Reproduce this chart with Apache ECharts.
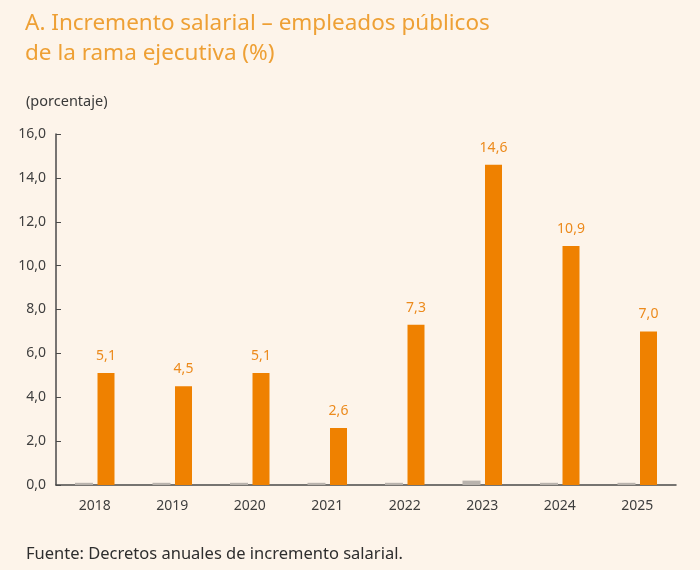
<!DOCTYPE html>
<html>
<head>
<meta charset="utf-8">
<script src="https://cdn.jsdelivr.net/npm/echarts@6/dist/echarts.min.js"></script>
<style>
  html, body { margin: 0; padding: 0; background: #fdf4ea; }
  #chart { width: 700px; height: 570px; }
</style>
</head>
<body>
<div id="chart"></div>
<script>
const years = ['2018', '2019', '2020', '2021', '2022', '2023', '2024', '2025'];
const increment = [5.1, 4.5, 5.1, 2.6, 7.3, 14.6, 10.9, 7.0];
const greyValues = [0.1, 0.1, 0.1, 0.1, 0.1, 0.2, 0.1, 0.1];

const comma = (v) => v.toFixed(1).replace('.', ',');
const font = 'Noto Sans';

const chart = echarts.init(document.getElementById('chart'), null, { width: 700, height: 570 });
chart.setOption({
  backgroundColor: '#fdf4ea',
  textStyle: { fontFamily: font },
  title: [
    {
      text: 'A. Incremento salarial – empleados públicos\nde la rama ejecutiva (%)',
      left: 20,
      top: 4,
      textStyle: {
        fontFamily: font,
        fontSize: 22.5,
        fontWeight: 'normal',
        color: '#eea035',
        lineHeight: 30,
      },
    },
    {
      text: '(porcentaje)',
      left: 21,
      top: 89,
      textStyle: { fontFamily: font, fontSize: 14.5, fontWeight: 'normal', color: '#3a3a3a' },
    },
    {
      text: 'Fuente: Decretos anuales de incremento salarial.',
      left: 21,
      top: 541,
      textStyle: { fontFamily: font, fontSize: 16.5, fontWeight: 'normal', color: '#2e2e2e' },
    },
  ],
  grid: {
    left: 56,
    right: 24,
    top: 134,
    bottom: 85,
    containLabel: false,
  },
  xAxis: {
    type: 'category',
    data: years,
    axisLine: { lineStyle: { color: '#4a4a4a', width: 1.5 } },
    axisTick: { inside: true, length: 5, lineStyle: { color: '#4a4a4a' } },
    axisLabel: { fontFamily: font, fontSize: 14, color: '#3e3e3e', margin: 14 },
  },
  yAxis: {
    type: 'value',
    min: 0,
    max: 16,
    interval: 2,
    axisLine: { show: true, lineStyle: { color: '#4a4a4a', width: 1.5 } },
    axisTick: { show: true, inside: true, length: 5, lineStyle: { color: '#4a4a4a' } },
    splitLine: { show: false },
    axisLabel: {
      fontFamily: font,
      fontSize: 14,
      color: '#3e3e3e',
      margin: 10,
      formatter: (v) => comma(v),
    },
  },
  series: [
    {
      type: 'bar',
      data: greyValues,
      barWidth: 18,
      barGap: '25%',
      itemStyle: { color: '#b9b3ad' },
      silent: true,
    },
    {
      type: 'bar',
      data: increment,
      barWidth: 17,
      itemStyle: { color: '#ef8100' },
      label: {
        show: true,
        position: 'top',
        distance: 10,
        fontFamily: font,
        fontSize: 14,
        color: '#ec8a1c',
        formatter: (p) => comma(p.value),
      },
    },
  ],
});
</script>
</body>
</html>
